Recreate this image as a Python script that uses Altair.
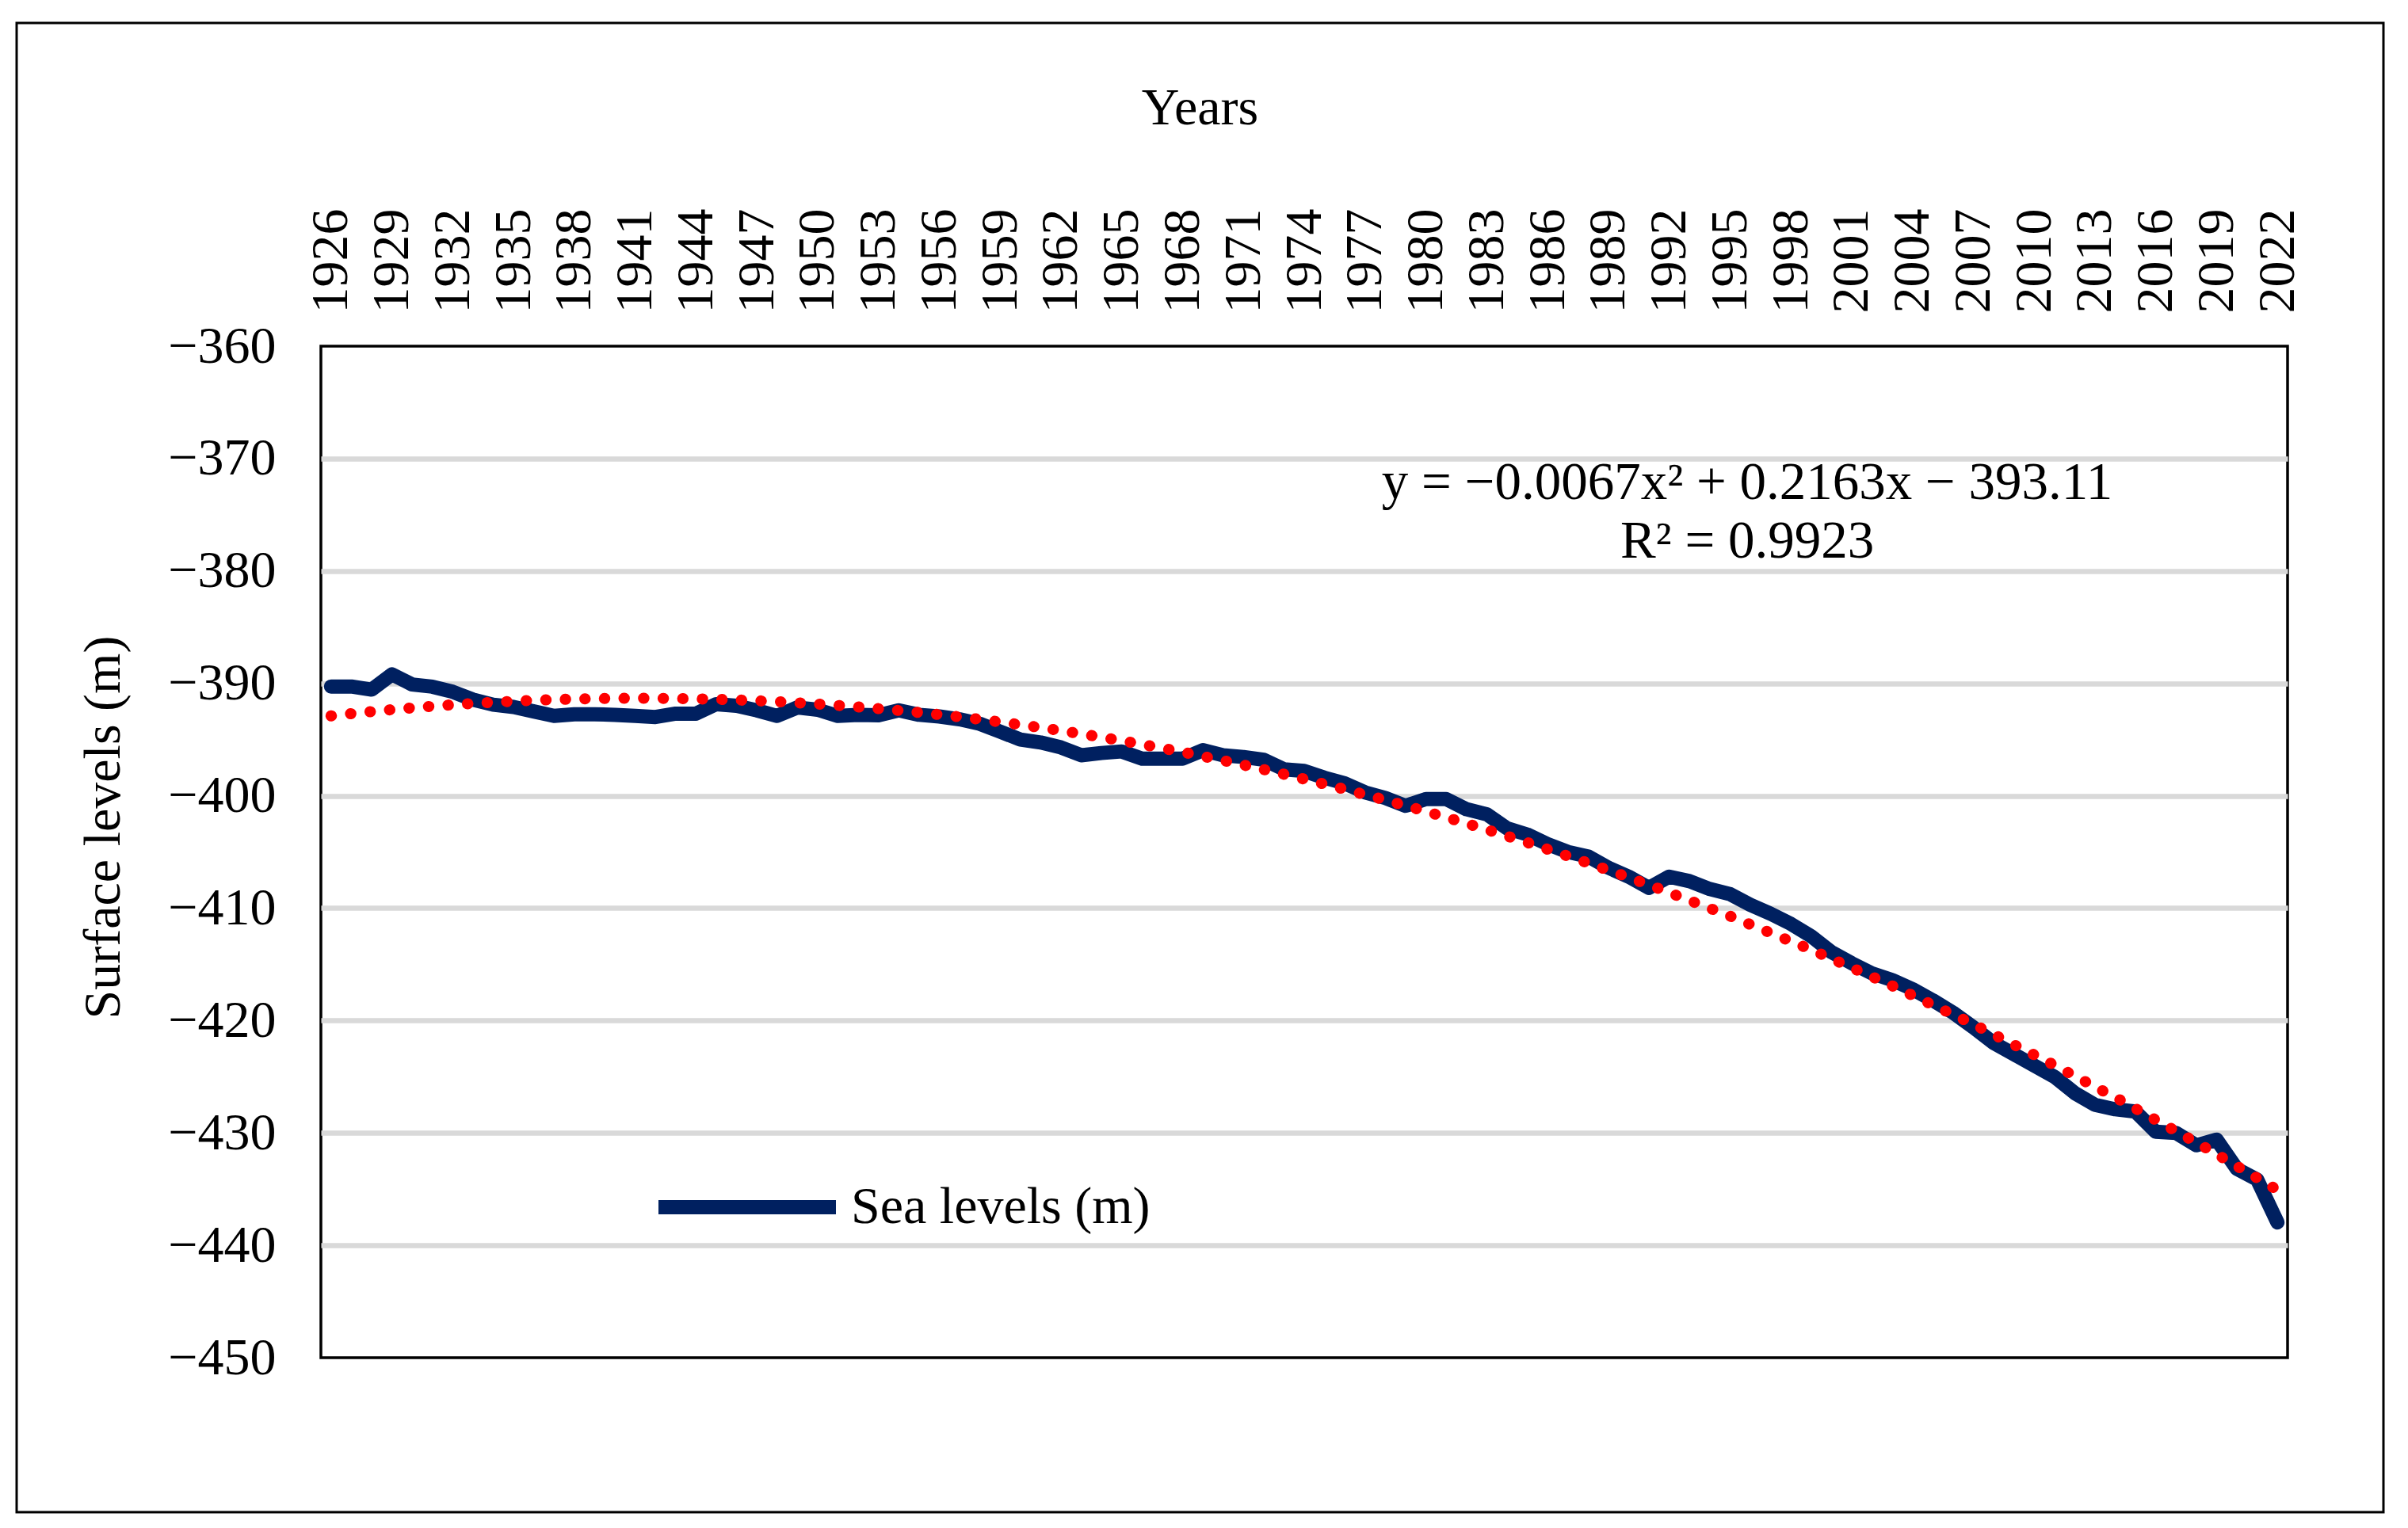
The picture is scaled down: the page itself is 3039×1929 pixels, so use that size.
import altair as alt
import pandas as pd

years = list(range(1926, 2023))
levels = [
    -390.28, -390.28, -390.56, -389.2, -390.1, -390.3, -390.75, -391.45, -391.9, -392.1,
    -392.5, -392.9, -392.75, -392.75, -392.8, -392.9, -393.0, -392.7, -392.7, -391.85,
    -392.0, -392.4, -392.9, -392.15, -392.35, -392.9, -392.8, -392.85, -392.4, -392.8,
    -392.95, -393.2, -393.6, -394.3, -395.0, -395.26, -395.7, -396.4, -396.2, -396.06,
    -396.7, -396.7, -396.7, -395.95, -396.4, -396.55, -396.8, -397.65, -397.8, -398.4,
    -398.9, -399.7, -400.2, -400.9, -400.3, -400.3, -401.2, -401.65, -402.9, -403.45,
    -404.3, -405.0, -405.4, -406.4, -407.2, -408.2, -407.2, -407.6, -408.3, -408.75,
    -409.7, -410.5, -411.4, -412.5, -413.9, -414.9, -415.8, -416.4, -417.2, -418.2,
    -419.3, -420.6, -422.0, -423.0, -424.0, -425.0, -426.45, -427.5, -427.9, -428.1,
    -429.9, -430.0, -431.1, -430.6, -433.2, -434.15, -437.96,
]
series_name = "Sea levels (m)"
x_tick_years = list(range(1926, 2023, 3))
y_ticks = list(range(-450, -359, 10))
annotation_lines = ["y = \u22120.0067x\u00b2 + 0.2163x \u2212 393.11", "R\u00b2 = 0.9923"]
annotation_year = [1995.85, 1995.85]
annotation_level = [-373.6, -378.85]

FONT = "Liberation Serif"
NAVY = "#002060"

df = pd.DataFrame({"year": years, "level": levels, "series": [series_name] * len(years)})
ann = pd.DataFrame({"year": annotation_year, "level": annotation_level, "text": annotation_lines})
frame_df = pd.DataFrame({"k": [0]})

x_scale = alt.Scale(domain=[1925.5, 2022.5], nice=False, zero=False)
y_scale = alt.Scale(domain=[-450, -360], nice=False, zero=False)

x_axis = alt.Axis(
    orient="top", values=x_tick_years, format="d", labelAngle=270,
    labelAlign="left", labelBaseline="middle", labelPadding=42,
    ticks=False, tickSize=0, domain=False, grid=False,
    labelFont=FONT, labelFontSize=66, labelColor="black", labelOverlap=False,
    title="Years", titleFont=FONT, titleFontSize=66, titleFontWeight="normal",
    titleColor="black", titleX=1109, titleY=-281, titleAlign="center",
    titleBaseline="alphabetic",
)
y_axis = alt.Axis(
    values=y_ticks, ticks=False, tickSize=0, domain=False, grid=True,
    gridColor="#d9d9d9", gridWidth=6.5,
    gridOpacity={"condition": {"test": "datum.value === -360 || datum.value === -450", "value": 0}, "value": 1},
    labelPadding=57,
    labelFont=FONT, labelFontSize=66, labelColor="black",
    title="Surface levels (m)", titleFont=FONT, titleFontSize=66,
    titleFontWeight="normal", titleColor="black", titleX=-255, titleY=607,
    titleAngle=270, titleAlign="center", titleBaseline="alphabetic",
)

base = alt.Chart(df)

line = base.mark_line(strokeWidth=18, strokeCap="round", strokeJoin="round").encode(
    x=alt.X("year:Q", scale=x_scale, axis=x_axis),
    y=alt.Y("level:Q", scale=y_scale, axis=y_axis),
    color=alt.Color(
        "series:N",
        scale=alt.Scale(domain=[series_name], range=[NAVY]),
        legend=alt.Legend(
            title=None, orient="none", legendX=417, legendY=966,
            symbolType="stroke", symbolSize=224 * 224, symbolStrokeWidth=18,
            labelFont=FONT, labelFontSize=66, labelColor="black", labelOffset=10,
            labelLimit=0, padding=0,
        ),
    ),
)

trend = base.transform_regression(
    "year", "level", method="poly", order=2, extent=[1926, 2022]
).mark_line(
    color="#ff0000", strokeWidth=14, strokeCap="round", strokeDash=[0.5, 24.2]
).encode(
    x=alt.X("year:Q", scale=x_scale),
    y=alt.Y("level:Q", scale=y_scale),
)

text = alt.Chart(ann).mark_text(
    font=FONT, fontSize=67, color="black", align="center", baseline="alphabetic"
).encode(
    x=alt.X("year:Q", scale=x_scale),
    y=alt.Y("level:Q", scale=y_scale),
    text="text:N",
)

frame = alt.Chart(frame_df).mark_rect(fill=None, stroke="black", strokeWidth=3).encode(
    x=alt.value(-384), x2=alt.value(2603), y=alt.value(-408), y2=alt.value(1472)
)

chart = alt.layer(line, trend, text, frame).properties(
    width=2482,
    height=1277,
    padding={"left": 397, "top": 429, "right": 140, "bottom": 203},
    autosize=alt.AutoSizeParams(type="none"),
    background="white",
).configure(font=FONT).configure_view(stroke="black", strokeWidth=3.5, fill="white")

chart.save("out.html", embed_options={"renderer": "svg", "actions": False})
